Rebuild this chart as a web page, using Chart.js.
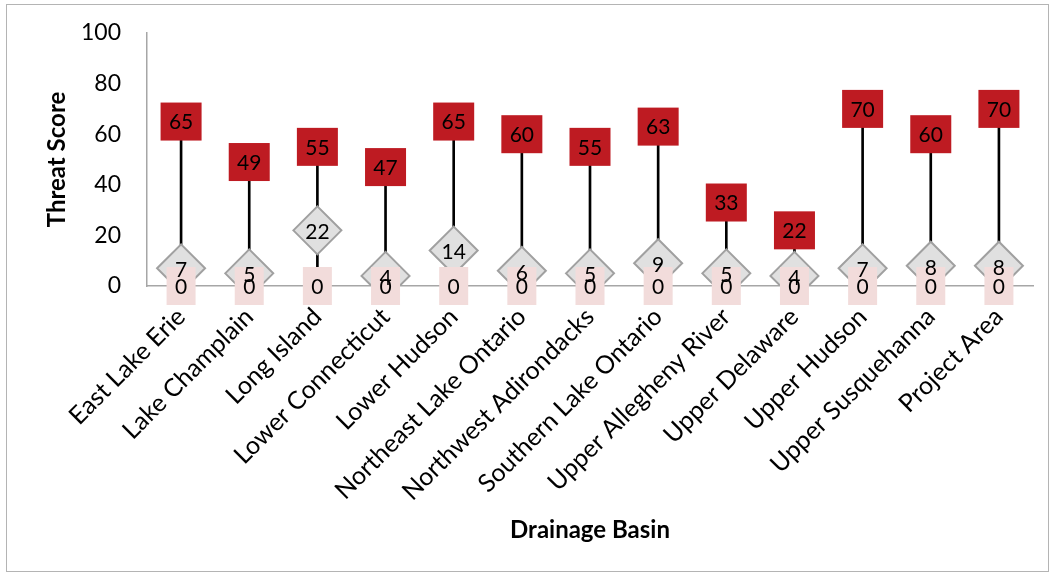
<!DOCTYPE html>
<html>
<head>
<meta charset="utf-8">
<script src="https://cdn.jsdelivr.net/npm/chart.js@4.4.0/dist/chart.umd.min.js"></script>
<style>
  html, body { margin: 0; padding: 0; background: #fff; }
  #wrap { position: relative; width: 1054px; height: 576px; }
  #frame { position: absolute; left: 6px; top: 4px; width: 1043px; height: 568px; border: 1px solid #b4b4b4; box-sizing: border-box; pointer-events: none; }
  canvas { display: block; }
</style>
</head>
<body>
<div id="wrap">
  <canvas id="threatChart" width="1054" height="576"></canvas>
  <div id="frame"></div>
</div>
<script>
const basins = ['East Lake Erie', 'Lake Champlain', 'Long Island', 'Lower Connecticut', 'Lower Hudson',
  'Northeast Lake Ontario', 'Northwest Adirondacks', 'Southern Lake Ontario', 'Upper Allegheny River',
  'Upper Delaware', 'Upper Hudson', 'Upper Susquehanna', 'Project Area'];
const highScores = [65, 49, 55, 47, 65, 60, 55, 63, 33, 22, 70, 60, 70];
const midScores = [7, 5, 22, 4, 14, 6, 5, 9, 5, 4, 7, 8, 8];
const lowScores = [0, 0, 0, 0, 0, 0, 0, 0, 0, 0, 0, 0, 0];
const yTicks = [0, 20, 40, 60, 80, 100];

const FONT = 'Lato, "Open Sans", sans-serif';

// boxes with labels for the high / low series, and labels on the diamonds
const labelBoxes = {
  id: 'labelBoxes',
  afterDatasetsDraw(chart) {
    const ctx = chart.ctx;
    const highMeta = chart.getDatasetMeta(1);
    const midMeta = chart.getDatasetMeta(2);
    const lowMeta = chart.getDatasetMeta(3);
    ctx.save();
    // red boxes
    highMeta.data.forEach(function (pt) {
      ctx.fillStyle = '#be1b22';
      ctx.fillRect(pt.x - 20.5, pt.y - 19, 41, 38);
    });
    // pink boxes
    lowMeta.data.forEach(function (pt) {
      ctx.fillStyle = '#f2dcdb';
      ctx.fillRect(pt.x - 14.5, pt.y - 19, 29, 38);
    });
    ctx.fillStyle = '#000';
    ctx.font = '21px ' + FONT;
    ctx.textAlign = 'center';
    ctx.textBaseline = 'middle';
    highMeta.data.forEach(function (pt, i) { ctx.fillText(String(highScores[i]), pt.x, pt.y + 1); });
    midMeta.data.forEach(function (pt, i) { ctx.fillText(String(midScores[i]), pt.x, pt.y + 2); });
    lowMeta.data.forEach(function (pt, i) { ctx.fillText(String(lowScores[i]), pt.x, pt.y + 1); });
    ctx.restore();
  }
};

function makeChart() {
  const ctx = document.getElementById('threatChart').getContext('2d');
  new Chart(ctx, {
    type: 'bar',
    data: {
      labels: basins,
      datasets: [
        {
          type: 'bar',
          label: 'Range',
          data: basins.map((b, i) => [lowScores[i], highScores[i]]),
          backgroundColor: '#000',
          barThickness: 2,
          order: 4
        },
        {
          type: 'line',
          label: 'High',
          data: highScores,
          showLine: false,
          pointRadius: 0,
          pointHoverRadius: 0,
          order: 2
        },
        {
          type: 'line',
          label: 'Medium',
          data: midScores,
          showLine: false,
          pointStyle: 'rectRot',
          pointRadius: 24,
          pointHoverRadius: 24,
          backgroundColor: '#e0e0e0',
          borderColor: '#a0a0a0',
          borderWidth: 2,
          order: 3
        },
        {
          type: 'line',
          label: 'Low',
          data: lowScores,
          showLine: false,
          pointRadius: 0,
          pointHoverRadius: 0,
          order: 1
        }
      ]
    },
    options: {
      responsive: false,
      animation: false,
      events: [],
      layout: { autoPadding: false, padding: { left: 0, top: 33, right: 21, bottom: 0 } },
      plugins: { legend: { display: false }, tooltip: { enabled: false } },
      scales: {
        x: {
          offset: true,
          grid: { display: false, drawTicks: false },
          border: { display: true, color: '#a6a6a6', width: 1.5 },
          ticks: {
            autoSkip: false,
            minRotation: 45,
            maxRotation: 45,
            padding: 16,
            color: '#000',
            font: { family: FONT, size: 25 }
          },
          title: {
            display: true,
            text: 'Drainage Basin',
            color: '#000',
            font: { family: FONT, size: 24, weight: 'bold' },
            padding: { top: 0, bottom: 31 }
          },
          afterFit(scale) { scale.height = 290; }
        },
        y: {
          min: 0,
          max: 100,
          afterBuildTicks(scale) { scale.ticks = yTicks.map(v => ({ value: v })); },
          grid: { display: false, drawTicks: false },
          border: { display: true, color: '#a6a6a6', width: 1.5 },
          ticks: {
            padding: 26,
            color: '#000',
            font: { family: FONT, size: 23 }
          },
          title: {
            display: true,
            text: 'Threat Score',
            color: '#000',
            font: { family: FONT, size: 24, weight: 'bold' },
            padding: { top: 43, bottom: 0 }
          },
          afterFit(scale) {
            scale.width = 147;
            // tick padding would otherwise push the plot top down
            scale.paddingTop = 0;
            scale.paddingBottom = 0;
          }
        }
      }
    },
    plugins: [labelBoxes]
  });
}

Promise.all([
  document.fonts.load('21px Lato'),
  document.fonts.load('bold 24px Lato')
]).then(makeChart, makeChart);
</script>
</body>
</html>
